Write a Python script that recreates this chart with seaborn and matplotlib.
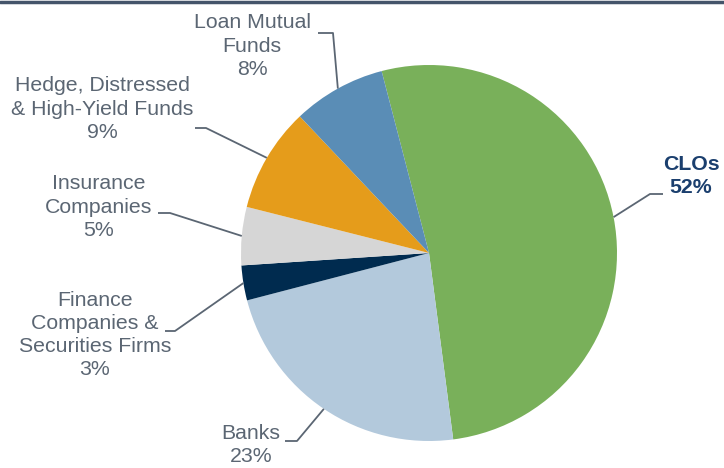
import numpy as np
import matplotlib
matplotlib.use("Agg")
import matplotlib.pyplot as plt
import seaborn as sns

# holders of leveraged loans, share of total (%)
labels = ["CLOs", "Banks", "Finance\nCompanies &\nSecurities Firms", "Insurance\nCompanies",
          "Hedge, Distressed\n& High-Yield Funds", "Loan Mutual\nFunds"]
shares = [52, 23, 3, 5, 9, 8]
colors = ["#79B05A", "#B3C9DC", "#002B4F", "#D6D6D6", "#E59C1B", "#5A8DB6"]

# label block centres and leader elbows, in pixels of the 724x468 figure
label_pos = [(691, 176), (251, 445), (95, 335), (99, 207), (102, 109), (252, 46)]
elbows = [((663, 194), (650, 194)), ((285, 441), (297, 441)), ((165, 331), (175, 331)),
          ((158, 213), (170, 213)), ((195, 128), (206, 128)), ((318, 33), (333, 33))]

W, H = 724, 468
CX, CY, R = 429, 253, 188


def px(x, y):
    return (x - CX) / R, (CY - y) / R


sns.set_theme(style="white")
plt.rcParams["font.family"] = ["Liberation Sans", "DejaVu Sans"]

fig = plt.figure(figsize=(W / 100, H / 100), dpi=100)
ax = fig.add_axes([0, 0, 1, 1])
ax.axis("off")

wedges, _ = ax.pie(shares, colors=colors, startangle=104.6, counterclock=False,
                   radius=1, wedgeprops=dict(linewidth=0))
ax.set_xlim(-CX / R, (W - CX) / R)
ax.set_ylim((CY - H) / R, CY / R)
ax.set_aspect("auto")

for i, (lab, val, w) in enumerate(zip(labels, shares, wedges)):
    mid = np.deg2rad((w.theta1 + w.theta2) / 2)
    tip = (np.cos(mid), np.sin(mid))
    a, b = elbows[i]
    xa, ya = px(*a)
    xb, yb = px(*b)
    ax.plot([xa, xb, tip[0]], [ya, yb, tip[1]], color="#5B6673", lw=1.3,
            solid_capstyle="butt", zorder=1)
    tx, ty = px(*label_pos[i])
    if lab == "CLOs":
        ax.text(tx, ty, f"{lab}\n{val}%", ha="center", va="center", fontsize=15.3,
                fontweight="bold", color="#1B3F6E", linespacing=1.27)
    else:
        ax.text(tx, ty, f"{lab}\n{val}%", ha="center", va="center", fontsize=15.3,
                color="#5B6673", linespacing=1.27)

# thin rule across the top
fig.add_artist(plt.Line2D([0, 1], [1 - 1.5 / H, 1 - 1.5 / H], color="#44546A", lw=2.5))

fig.savefig("out.png", dpi=100)
